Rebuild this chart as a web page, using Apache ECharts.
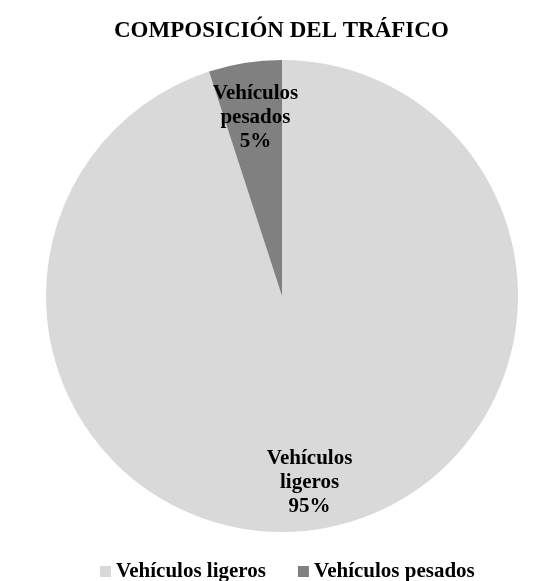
<!DOCTYPE html>
<html><head><meta charset="utf-8">
<script src="https://cdn.jsdelivr.net/npm/echarts@6/dist/echarts.min.js"></script>
<style>html,body{margin:0;padding:0;background:#fff}#c{width:543px;height:581px}</style>
</head><body><div id="c"></div>
<script>
const title = 'COMPOSICIÓN DEL TRÁFICO';
const categories = ['Vehículos ligeros', 'Vehículos pesados'];
const labelNames = ['Vehículos\nligeros', 'Vehículos\npesados'];
const values = [95, 5];
const colors = ['#d9d9d9', '#808080'];

const font = "'Liberation Serif', 'Times New Roman', serif";
const labelOffsets = [[-2, 0], [3, 8]];
const data = categories.map((n, i) => ({ name: n, value: values[i], itemStyle: { color: colors[i] } }));
const labelData = categories.map((n, i) => ({ name: n, value: values[i], label: { formatter: labelNames[i] + '\n' + values[i] + '%', offset: labelOffsets[i] } }));

const chart = echarts.init(document.getElementById('c'));
chart.setOption({
  backgroundColor: '#fff',
  animation: false,
  title: { text: title, left: 109, top: 15, textStyle: { fontFamily: font, fontWeight: 'bold', fontSize: 23, color: '#000' } },
  legend: {
    data: categories, top: 556, left: 95, itemWidth: 11, itemHeight: 11, itemGap: 32, icon: 'rect',
    textStyle: { fontFamily: font, fontWeight: 'bold', fontSize: 21, color: '#000' }
  },
  series: [
    { type: 'pie', center: [282, 296], radius: [0, 236], startAngle: 90, clockwise: true, data: data, label: { show: false }, labelLine: { show: false }, silent: true },
    { type: 'pie', center: [282, 296], radius: [136, 236], startAngle: 90, clockwise: true, data: labelData, silent: true,
      itemStyle: { color: 'rgba(0,0,0,0)' },
      label: { show: true, position: 'inside', fontFamily: font, fontWeight: 'bold', fontSize: 21, lineHeight: 24, color: '#000' },
      labelLine: { show: false } }
  ]
});
</script></body></html>
